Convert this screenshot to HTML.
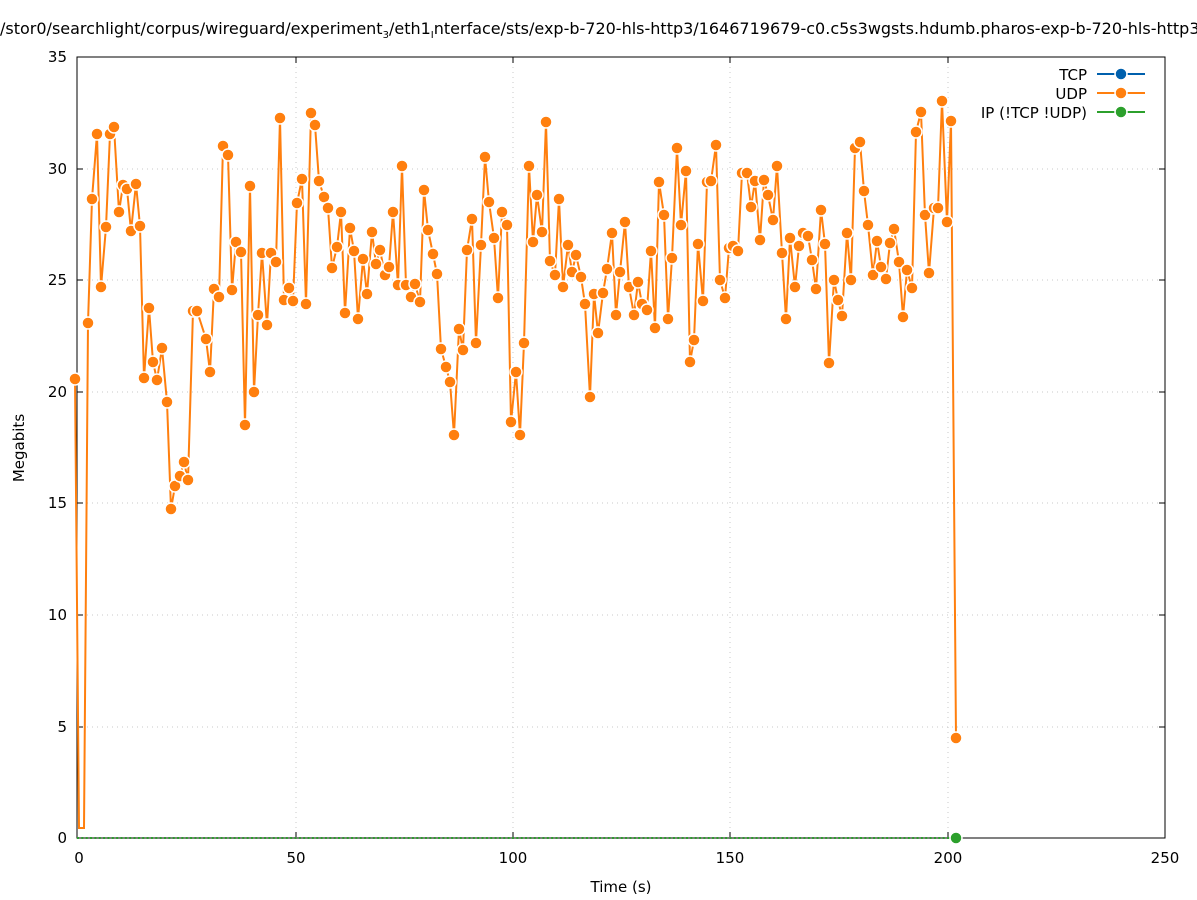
<!DOCTYPE html>
<html><head><meta charset="utf-8"><style>
body{margin:0;background:#fff;}
svg{display:block;font-family:"DejaVu Sans","Liberation Sans",sans-serif;}
</style></head><body>
<svg width="1197" height="900" viewBox="0 0 1197 900" xmlns="http://www.w3.org/2000/svg">
<rect width="1197" height="900" fill="#fff"/>
<g stroke="#c8c8c8" stroke-width="1" stroke-dasharray="1,4">
<line x1="296" y1="57" x2="296" y2="838"/><line x1="513" y1="57" x2="513" y2="838"/><line x1="730" y1="57" x2="730" y2="838"/><line x1="948" y1="57" x2="948" y2="838"/>
<line x1="77" y1="727" x2="1165" y2="727"/><line x1="77" y1="615" x2="1165" y2="615"/><line x1="77" y1="503" x2="1165" y2="503"/><line x1="77" y1="392" x2="1165" y2="392"/><line x1="77" y1="280" x2="1165" y2="280"/><line x1="77" y1="169" x2="1165" y2="169"/>
</g>
<rect x="77" y="57" width="1088" height="781" fill="none" stroke="#000" stroke-width="1"/>
<g stroke="#000" stroke-width="1">
<line x1="77" y1="838" x2="83" y2="838"/><line x1="77" y1="727" x2="83" y2="727"/><line x1="77" y1="615" x2="83" y2="615"/><line x1="77" y1="503" x2="83" y2="503"/><line x1="77" y1="392" x2="83" y2="392"/><line x1="77" y1="280" x2="83" y2="280"/><line x1="77" y1="169" x2="83" y2="169"/><line x1="77" y1="57" x2="83" y2="57"/>
<line x1="1165" y1="727" x2="1159" y2="727"/><line x1="1165" y1="615" x2="1159" y2="615"/><line x1="1165" y1="503" x2="1159" y2="503"/><line x1="1165" y1="392" x2="1159" y2="392"/><line x1="1165" y1="280" x2="1159" y2="280"/><line x1="1165" y1="169" x2="1159" y2="169"/>
<line x1="296" y1="838" x2="296" y2="832"/><line x1="513" y1="838" x2="513" y2="832"/><line x1="730" y1="838" x2="730" y2="832"/><line x1="948" y1="838" x2="948" y2="832"/>
<line x1="296" y1="57" x2="296" y2="63"/><line x1="513" y1="57" x2="513" y2="63"/><line x1="730" y1="57" x2="730" y2="63"/><line x1="948" y1="57" x2="948" y2="63"/>
</g>
<g font-size="15" fill="#000" text-anchor="end">
<text x="67" y="843">0</text><text x="67" y="732">5</text><text x="67" y="620">10</text><text x="67" y="508">15</text><text x="67" y="397">20</text><text x="67" y="285">25</text><text x="67" y="174">30</text><text x="67" y="62">35</text>
</g>
<g font-size="15" fill="#000" text-anchor="middle">
<text x="79" y="863">0</text><text x="296" y="863">50</text><text x="513" y="863">100</text><text x="730" y="863">150</text><text x="948" y="863">200</text><text x="1165" y="863">250</text>
<text x="621" y="892">Time (s)</text>
<text transform="translate(24,448) rotate(-90)">Megabits</text>
</g>
<text x="0" y="34" font-size="16">/stor0/searchlight/corpus/wireguard/experiment<tspan font-size="10" dy="4">3</tspan><tspan dy="-4">/eth1</tspan><tspan font-size="10" dy="4">I</tspan><tspan dy="-4">nterface/sts/exp-b-720-hls-http3/1646719679-c0.c5s3wgsts.hdumb.pharos-exp-b-720-hls-http3</tspan></text>
<g font-size="15" text-anchor="end">
<text x="1087" y="80">TCP</text><text x="1087" y="99">UDP</text><text x="1087" y="118">IP (!TCP  !UDP)</text>
</g>
<line x1="1097" y1="74" x2="1145" y2="74" stroke="#0060ad" stroke-width="2"/><circle cx="1121" cy="74" r="6" fill="#0060ad" stroke="#fff" stroke-width="1.5"/>
<line x1="1097" y1="93" x2="1145" y2="93" stroke="#ff7f0e" stroke-width="2"/><circle cx="1121" cy="93" r="6" fill="#ff7f0e" stroke="#fff" stroke-width="1.5"/>
<line x1="1097" y1="112" x2="1145" y2="112" stroke="#2ca02c" stroke-width="2"/><circle cx="1121" cy="112" r="6" fill="#2ca02c" stroke="#fff" stroke-width="1.5"/>
<line x1="77" y1="838" x2="956" y2="838" stroke="#2ca02c" stroke-width="2" stroke-dasharray="2,2.35"/>
<circle cx="956" cy="838" r="6" fill="#2ca02c" stroke="#fff" stroke-width="1.5"/>
<g id="udp"></g>
</svg>
<script>
var p=[[75,379],[79,828],[84,828],[88,323],[92,199],[97,134],[101,287],[106,227],[110,134],[114,127],[119,212],[123,185],[127,189],[131,231],[136,184],[140,226],[144,378],[149,308],[153,362],[157,380],[162,348],[167,402],[171,509],[175,486],[180,476],[184,462],[188,480],[193,311],[197,311],[206,339],[210,372],[214,289],[219,297],[223,146],[228,155],[232,290],[236,242],[241,252],[245,425],[250,186],[254,392],[258,315],[262,253],[267,325],[271,253],[276,262],[280,118],[284,300],[289,288],[293,301],[297,203],[302,179],[306,304],[311,113],[315,125],[319,181],[324,197],[328,208],[332,268],[337,247],[341,212],[345,313],[350,228],[354,251],[358,319],[363,259],[367,294],[372,232],[376,264],[380,250],[385,275],[389,267],[393,212],[398,285],[402,166],[406,285],[411,297],[415,284],[420,302],[424,190],[428,230],[433,254],[437,274],[441,349],[446,367],[450,382],[454,435],[459,329],[463,350],[467,250],[472,219],[476,343],[481,245],[485,157],[489,202],[494,238],[498,298],[502,212],[507,225],[511,422],[516,372],[520,435],[524,343],[529,166],[533,242],[537,195],[542,232],[546,122],[550,261],[555,275],[559,199],[563,287],[568,245],[572,272],[576,255],[581,277],[585,304],[590,397],[594,294],[598,333],[603,293],[607,269],[612,233],[616,315],[620,272],[625,222],[629,287],[634,315],[638,282],[642,304],[647,310],[651,251],[655,328],[659,182],[664,215],[668,319],[672,258],[677,148],[681,225],[686,171],[690,362],[694,340],[698,244],[703,301],[707,182],[711,181],[716,145],[720,280],[725,298],[729,248],[733,246],[738,251],[742,173],[747,173],[751,207],[755,181],[760,240],[764,180],[768,195],[773,220],[777,166],[782,253],[786,319],[790,238],[795,287],[799,246],[803,233],[808,236],[812,260],[816,289],[821,210],[825,244],[829,363],[834,280],[838,300],[842,316],[847,233],[851,280],[855,148],[860,142],[864,191],[868,225],[873,275],[877,241],[881,267],[886,279],[890,243],[894,229],[899,262],[903,317],[907,270],[912,288],[916,132],[921,112],[925,215],[929,273],[934,208],[938,208],[942,101],[947,222],[951,121],[956,738]];
var ns="http://www.w3.org/2000/svg",g=document.getElementById("udp");
var pl=document.createElementNS(ns,"polyline");
pl.setAttribute("points",p.map(function(a){return a.join(",")}).join(" "));
pl.setAttribute("fill","none");pl.setAttribute("stroke","#ff7f0e");pl.setAttribute("stroke-width","2");
g.appendChild(pl);
p.forEach(function(a){if(a[1]>820)return;var c=document.createElementNS(ns,"circle");c.setAttribute("cx",a[0]);c.setAttribute("cy",a[1]);c.setAttribute("r","6");c.setAttribute("fill","#ff7f0e");c.setAttribute("stroke","#fff");c.setAttribute("stroke-width","1.5");g.appendChild(c);});
</script>
</body></html>
